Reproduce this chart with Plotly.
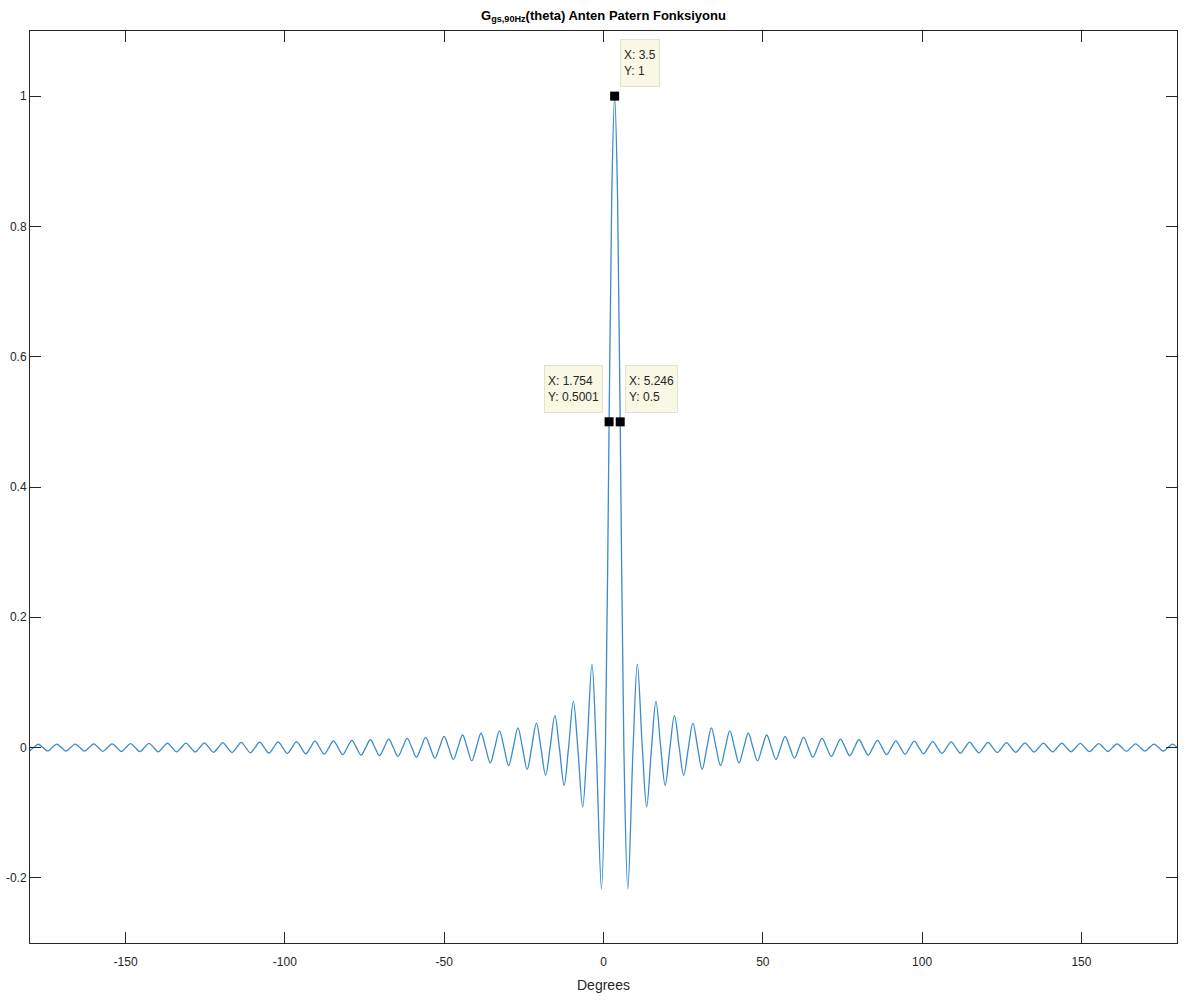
import plotly.graph_objects as go

# ---------------- data ----------------
# main lobe (degrees, gain)
lobe_theta = [1.754, 2.6, 3.5, 4.4, 5.246]
lobe_gain = [0.5001, 0.85, 1.0, 0.85, 0.5]

# side-lobe extrema, left of the main lobe (degrees, gain)
left_peak_theta = [-0.64, -3.62, -6.54, -9.46, -12.36, -15.27, -18.17, -21.06, -23.96, -26.86,
                   -29.75, -32.65, -35.54, -38.44, -41.33, -44.23, -47.13, -50.02, -52.92, -55.81,
                   -58.71, -61.60, -64.50, -67.39, -70.29, -73.18, -76.08, -78.97, -81.86, -84.76,
                   -87.65, -90.55, -93.44, -96.34, -99.23, -102.12, -105.02, -107.91, -110.81, -113.70,
                   -116.60, -119.49, -122.38, -125.28, -128.17, -131.07, -133.96, -136.86, -139.75, -142.64,
                   -145.54, -148.43, -151.33, -154.22, -157.12, -160.01, -162.90, -165.80, -168.69, -171.59,
                   -174.48, -177.38, -180.0]
left_peak_gain = [-0.217, 0.128, -0.091, 0.071, -0.058, 0.049, -0.0425, 0.0375, -0.0335, 0.0303,
                  -0.0277, 0.0255, -0.0236, 0.0220, -0.0205, 0.0193, -0.0182, 0.0172, -0.0163, 0.0155,
                  -0.0148, 0.0141, -0.0135, 0.0130, -0.0125, 0.0120, -0.0116, 0.0112, -0.0108, 0.0104,
                  -0.0101, 0.0098, -0.0095, 0.0092, -0.0090, 0.0087, -0.0085, 0.0083, -0.0081, 0.0079,
                  -0.0077, 0.0075, -0.0073, 0.0072, -0.0070, 0.0068, -0.0067, 0.0066, -0.0064, 0.0063,
                  -0.0062, 0.0061, -0.0060, 0.0058, -0.0057, 0.0056, -0.0055, 0.0054, -0.0053, 0.0053,
                  -0.0052, 0.0051, -0.0048]

# side-lobe extrema, right of the main lobe (degrees, gain)
right_peak_theta = [7.64, 10.62, 13.54, 16.46, 19.36, 22.27, 25.17, 28.06, 30.96, 33.86,
                    36.75, 39.65, 42.54, 45.44, 48.33, 51.23, 54.13, 57.02, 59.92, 62.81,
                    65.71, 68.60, 71.50, 74.39, 77.29, 80.18, 83.08, 85.97, 88.86, 91.76,
                    94.65, 97.55, 100.44, 103.34, 106.23, 109.12, 112.02, 114.91, 117.81, 120.70,
                    123.60, 126.49, 129.38, 132.28, 135.17, 138.07, 140.96, 143.86, 146.75, 149.64,
                    152.54, 155.43, 158.33, 161.22, 164.12, 167.01, 169.90, 172.80, 175.69, 178.59,
                    180.0]
right_peak_gain = [-0.217, 0.128, -0.091, 0.071, -0.058, 0.049, -0.0425, 0.0375, -0.0335, 0.0303,
                   -0.0277, 0.0255, -0.0236, 0.0220, -0.0205, 0.0193, -0.0182, 0.0172, -0.0163, 0.0155,
                   -0.0148, 0.0141, -0.0135, 0.0130, -0.0125, 0.0120, -0.0116, 0.0112, -0.0108, 0.0104,
                   -0.0101, 0.0098, -0.0095, 0.0092, -0.0090, 0.0087, -0.0085, 0.0083, -0.0081, 0.0079,
                   -0.0077, 0.0075, -0.0073, 0.0072, -0.0070, 0.0068, -0.0067, 0.0066, -0.0064, 0.0063,
                   -0.0062, 0.0061, -0.0060, 0.0058, -0.0057, 0.0056, -0.0055, 0.0054, -0.0053, 0.0053,
                   0.0002]

# zero crossings of the pattern (degrees)
null_theta = [0.61, -2.29, -5.18, -8.08, -10.97, -13.86, -16.76, -19.65, -22.55, -25.44,
              -28.33, -31.23, -34.12, -37.02, -39.91, -42.80, -45.70, -48.59, -51.49, -54.38,
              -57.27, -60.17, -63.06, -65.96, -68.85, -71.74, -74.64, -77.53, -80.43, -83.32,
              -86.21, -89.11, -92.00, -94.90, -97.79, -100.68, -103.58, -106.47, -109.37, -112.26,
              -115.15, -118.05, -120.94, -123.84, -126.73, -129.62, -132.52, -135.41, -138.31, -141.20,
              -144.09, -146.99, -149.88, -152.78, -155.67, -158.56, -161.46, -164.35, -167.25, -170.14,
              -173.03, -175.93, -178.82,
              6.39, 9.29, 12.18, 15.08, 17.97, 20.86, 23.76, 26.65, 29.55, 32.44,
              35.33, 38.23, 41.12, 44.02, 46.91, 49.80, 52.70, 55.59, 58.49, 61.38,
              64.27, 67.17, 70.06, 72.96, 75.85, 78.74, 81.64, 84.53, 87.43, 90.32,
              93.21, 96.11, 99.00, 101.90, 104.79, 107.68, 110.58, 113.47, 116.37, 119.26,
              122.15, 125.05, 127.94, 130.84, 133.73, 136.62, 139.52, 142.41, 145.31, 148.20,
              151.09, 153.99, 156.88, 159.78, 162.67, 165.56, 168.46, 171.35, 174.25, 177.14]

# data tips
tip_x = [3.5, 1.754, 5.246]
tip_y = [1, 0.5001, 0.5]

x_ticks = [-150, -100, -50, 0, 50, 100, 150]
y_ticks = [-0.2, 0, 0.2, 0.4, 0.6, 0.8, 1]
y_tick_text = ["-0.2", "0", "0.2", "0.4", "0.6", "0.8", "1"]

title_text = "<b>G<sub>gs,90Hz</sub>(theta) Anten Patern Fonksiyonu</b>"
x_label = "Degrees"

# ---------------- build curve ----------------
pts = list(zip(lobe_theta, lobe_gain))
pts += list(zip(left_peak_theta, left_peak_gain))
pts += list(zip(right_peak_theta, right_peak_gain))
pts += [(t, 0.0) for t in null_theta]
pts.sort(key=lambda p: p[0])
curve_x = [p[0] for p in pts]
curve_y = [p[1] for p in pts]

FONT = "Liberation Sans, Arial, sans-serif"
AX = "#262626"

fig = go.Figure()
fig.add_trace(go.Scatter(x=curve_x, y=curve_y, mode="lines",
                         line=dict(color="#3a8ccb", width=1.3, shape="spline", smoothing=1.0),
                         hoverinfo="skip", showlegend=False))
fig.add_trace(go.Scatter(x=tip_x, y=tip_y, mode="markers",
                         marker=dict(symbol="square", size=9, color="black"),
                         hoverinfo="skip", showlegend=False))

# data tip boxes
tip_cfg = [  # (xanchor, xshift)
    ("left", 5),
    ("right", -6),
    ("left", 5),
]
for (xa, xs), tx, ty in zip(tip_cfg, tip_x, tip_y):
    fig.add_annotation(x=tx, y=ty, xref="x", yref="y", showarrow=False,
                       text=f"X: {tx:g}<br>Y: {ty:g}", align="left",
                       xanchor=xa, yanchor="bottom", xshift=xs, yshift=9,
                       height=40, valign="middle",
                       font=dict(family=FONT, size=12, color="#262626"),
                       bgcolor="#f8f8e4", bordercolor="#e2e2d0", borderwidth=1, borderpad=3)

fig.add_annotation(text=x_label, x=0.5, xref="paper", y=-0.046, yref="paper",
                   showarrow=False, xanchor="center", yanchor="middle",
                   font=dict(family=FONT, size=14, color=AX))

fig.update_layout(
    width=1189, height=1001,
    margin=dict(l=30, r=12, t=31, b=58, autoexpand=False),
    paper_bgcolor="white", plot_bgcolor="white",
    title=dict(text=title_text, x=0.5, xref="paper", xanchor="center",
               y=1 - 15 / 1001, yref="container", yanchor="middle",
               font=dict(family=FONT, size=13, color="black")),
    xaxis=dict(range=[-180, 180], tickvals=x_ticks, ticktext=[str(v) for v in x_ticks],
               ticks="inside", ticklen=11, tickcolor=AX, tickwidth=1,
               showline=True, linecolor=AX, linewidth=1, mirror="ticks",
               showgrid=False, zeroline=False, automargin=False, ticklabelstandoff=8,
               tickfont=dict(family=FONT, size=12, color=AX)),
    yaxis=dict(range=[-0.3, 1.1], tickvals=y_ticks, ticktext=y_tick_text,
               ticks="inside", ticklen=11, tickcolor=AX, tickwidth=1,
               showline=True, linecolor=AX, linewidth=1, mirror="ticks",
               showgrid=False, zeroline=False, automargin=False,
               tickfont=dict(family=FONT, size=12, color=AX)),
)

fig.write_html("out.html")
